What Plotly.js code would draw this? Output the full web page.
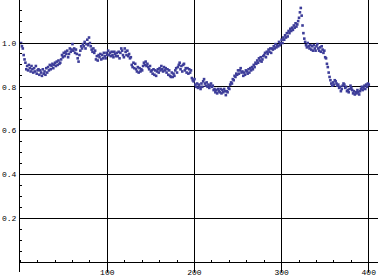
<!DOCTYPE html>
<html><head><meta charset="utf-8">
<script src="https://cdn.plot.ly/plotly-3.0.1.min.js"></script>
<style>html,body{margin:0;padding:0;background:#fff}#chart{width:378px;height:280px}</style>
</head><body><div id="chart"></div>
<script>
const yValues = [
1.00,0.985,0.975,0.945,0.925,0.91,0.88,0.895,0.875,0.90,
0.885,0.87,0.895,0.88,0.865,0.885,0.87,0.895,0.86,0.875,
0.88,0.855,0.875,0.865,0.85,0.88,0.86,0.87,0.855,0.885,
0.865,0.89,0.875,0.90,0.88,0.895,0.905,0.885,0.90,0.91,
0.895,0.915,0.90,0.92,0.905,0.91,0.925,0.945,0.935,0.955,
0.94,0.96,0.95,0.965,0.935,0.95,0.975,0.96,0.97,0.995,
0.965,0.975,0.955,0.97,0.95,0.93,0.915,0.945,0.965,0.985,
0.975,0.995,0.985,1.005,0.975,0.995,1.015,0.99,1.025,1.0,
0.985,0.97,0.96,0.975,0.955,0.965,0.925,0.94,0.92,0.945,
0.935,0.95,0.925,0.945,0.93,0.955,0.94,0.93,0.955,0.945,
0.965,0.945,0.955,0.94,0.96,0.945,0.935,0.96,0.95,0.94,
0.955,0.94,0.96,0.93,0.955,0.975,0.965,0.945,0.935,0.975,
0.96,0.945,0.965,0.94,0.95,0.93,0.935,0.90,0.89,0.91,
0.885,0.905,0.88,0.87,0.89,0.865,0.885,0.87,0.88,0.875,
0.895,0.91,0.90,0.915,0.895,0.905,0.89,0.88,0.895,0.87,
0.875,0.86,0.88,0.855,0.875,0.85,0.87,0.88,0.865,0.885,
0.875,0.895,0.88,0.87,0.89,0.875,0.885,0.865,0.88,0.855,
0.875,0.85,0.845,0.865,0.845,0.86,0.85,0.875,0.885,0.865,
0.89,0.90,0.91,0.88,0.895,0.87,0.90,0.905,0.875,0.885,
0.865,0.885,0.86,0.88,0.865,0.875,0.84,0.83,0.825,0.835,
0.81,0.80,0.815,0.795,0.81,0.80,0.79,0.815,0.80,0.825,
0.835,0.815,0.805,0.82,0.80,0.81,0.795,0.805,0.815,0.80,
0.805,0.785,0.79,0.775,0.785,0.77,0.79,0.78,0.775,0.79,
0.77,0.785,0.775,0.79,0.78,0.762,0.78,0.775,0.795,0.79,
0.81,0.82,0.815,0.835,0.83,0.85,0.845,0.86,0.855,0.875,
0.86,0.875,0.885,0.865,0.87,0.85,0.865,0.855,0.875,0.87,
0.86,0.88,0.865,0.885,0.875,0.89,0.88,0.90,0.89,0.91,
0.905,0.92,0.91,0.93,0.92,0.935,0.915,0.925,0.94,0.945,
0.955,0.935,0.96,0.95,0.97,0.96,0.975,0.955,0.975,0.97,
0.985,0.975,0.995,0.98,0.99,0.985,1.005,0.99,1.0,1.015,
1.0,1.025,1.015,1.035,1.025,1.045,1.03,1.055,1.045,1.065,
1.055,1.07,1.06,1.08,1.07,1.09,1.075,1.085,1.10,1.115,
1.14,1.16,1.125,1.08,1.045,1.02,1.005,0.99,0.98,1.0,
0.985,0.975,0.99,0.97,0.985,0.965,0.99,0.975,0.965,0.985,
0.995,0.975,0.965,0.98,0.96,0.985,0.97,0.955,0.965,0.935,
0.93,0.905,0.89,0.865,0.845,0.83,0.815,0.805,0.82,0.81,
0.83,0.825,0.815,0.805,0.81,0.795,0.80,0.78,0.79,0.805,
0.815,0.81,0.795,0.80,0.78,0.785,0.775,0.79,0.805,0.795,
0.785,0.77,0.78,0.765,0.775,0.77,0.785,0.775,0.765,0.78,
0.79,0.80,0.785,0.795,0.805,0.79,0.81,0.80,0.815,0.81
];
const xValues = yValues.map((_, i) => i + 1);
const xTicks = [100, 200, 300, 400];
const yTicks = [0.2, 0.4, 0.6, 0.8, 1.0];
const yTickText = ["0.2", "0.4", "0.6", "0.8", "1.0"];

const trace = {
  x: xValues, y: yValues, type: 'scatter', mode: 'markers',
  marker: {symbol: 'square', size: 2.6, color: '#3d3d99', line: {width: 0}},
  hoverinfo: 'skip'
};
const tickFont = {family: 'Liberation Mono, monospace', size: 8, color: '#000'};
const layout = {
  width: 378, height: 280,
  margin: {l: 20, r: 0, t: 0, b: 8},
  paper_bgcolor: '#fff', plot_bgcolor: '#fff',
  showlegend: false,
  xaxis: {
    range: [-0.2, 410.6], anchor: 'free', position: 10/272,
    tickmode: 'array', tickvals: xTicks, ticktext: xTicks.map(String),
    showgrid: true, gridcolor: '#000', gridwidth: 1,
    zeroline: false, showline: true, linecolor: '#000', linewidth: 1,
    ticks: '', tickfont: tickFont, ticklabelstandoff: 2,
    minor: {dtick: 20, tick0: 0, ticks: 'inside', ticklen: 2, tickcolor: '#000', showgrid: false}
  },
  yaxis: {
    range: [-10/219, 262/219],
    tickmode: 'array', tickvals: yTicks, ticktext: yTickText,
    showgrid: true, gridcolor: '#000', gridwidth: 1,
    zeroline: false, showline: true, linecolor: '#000', linewidth: 1,
    ticks: '', tickfont: tickFont, ticklabelstandoff: 1,
    minor: {dtick: 0.05, tick0: 0, ticks: 'inside', ticklen: 2, tickcolor: '#000', showgrid: false}
  }
};
Plotly.newPlot('chart', [trace], layout, {staticPlot: true, displayModeBar: false});
</script></body></html>
